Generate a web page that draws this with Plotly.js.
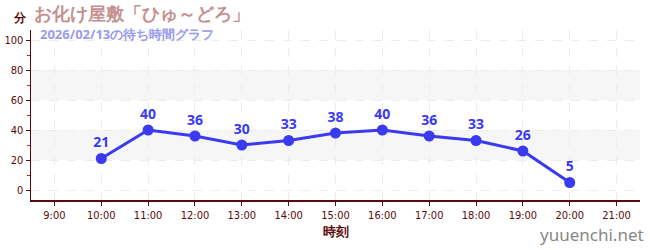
<!DOCTYPE html>
<html><head><meta charset="utf-8">
<script src="https://cdn.plot.ly/plotly-3.0.1.min.js"></script>
<style>body{margin:0;padding:0;background:#fff}#c{width:650px;height:250px}</style>
</head><body><div id="c"></div>
<script>
const hours = [10, 11, 12, 13, 14, 15, 16, 17, 18, 19, 20];
const waits = [21, 40, 36, 30, 33, 38, 40, 36, 33, 26, 5];
const tickHours = [9, 10, 11, 12, 13, 14, 15, 16, 17, 18, 19, 20, 21];
const tickLabels = tickHours.map(h => h + ':00');
const bandRanges = [[20, 40], [60, 80]];
const titleText = 'お化け屋敷「ひゅ～どろ」';
const subtitleText = '2026/02/13の待ち時間グラフ';

const axisColor = '#5a0a0a';
const trace = {
  x: hours, y: waits, mode: 'lines+markers+text', type: 'scatter',
  text: waits.map(String), textposition: 'top center',
  textfont: {color: '#3a3af0', size: 14, family: 'Noto Sans, sans-serif', weight: 'bold'},
  line: {color: '#3a3af0', width: 3},
  marker: {color: '#3a3af0', size: 11},
  cliponaxis: false, hoverinfo: 'skip'
};
const shapes = bandRanges.map(r => ({
  type: 'rect', xref: 'paper', yref: 'y', x0: 0, x1: 1, y0: r[0], y1: r[1],
  fillcolor: '#f6f6f6', line: {width: 0}, layer: 'below'
}));
const layout = {
  width: 650, height: 250,
  margin: {l: 31, r: 10, t: 30, b: 50},
  paper_bgcolor: '#fff', plot_bgcolor: '#fff',
  showlegend: false,
  font: {family: 'Noto Sans, sans-serif', color: axisColor},
  shapes: shapes,
  xaxis: {
    range: [8.5, 21.5], tickvals: tickHours, ticktext: tickLabels,
    showline: true, linecolor: axisColor, linewidth: 1.5,
    ticks: 'outside', ticklen: 4, tickcolor: axisColor,
    tickfont: {size: 11, color: axisColor, family: 'DejaVu Sans Condensed, Noto Sans, sans-serif'},
    showgrid: true, gridcolor: '#ececec', griddash: 'dash', gridwidth: 1,
    zeroline: false,
    title: {text: '時刻', font: {size: 13, color: axisColor, weight: 'bold'}, standoff: 5}
  },
  yaxis: {
    range: [-6.67, 106.67], tickvals: [0, 20, 40, 60, 80, 100],
    showline: true, linecolor: axisColor, linewidth: 1.5,
    ticks: 'outside', ticklen: 4, tickcolor: axisColor,
    tickfont: {size: 11, color: axisColor, family: 'DejaVu Sans Condensed, Noto Sans, sans-serif'},
    showgrid: true, gridcolor: '#ececec', griddash: 'dash', gridwidth: 1,
    zeroline: false,
    minor: {dtick: 10, tick0: 0, ticks: 'outside', ticklen: 3, tickcolor: '#cc2020', showgrid: false}
  },
  annotations: [
    {text: titleText, xref: 'paper', yref: 'paper', x: 0, xshift: 1, y: 1, yshift: 17, xanchor: 'left', yanchor: 'middle',
     showarrow: false, font: {size: 18, color: '#c49090', weight: 'bold'}},
    {text: subtitleText, xref: 'paper', yref: 'paper', x: 0, xshift: 7, y: 1, yshift: -4, xanchor: 'left', yanchor: 'middle',
     showarrow: false, font: {size: 13, color: '#9a9af0', weight: 'bold'}},
    {text: '分', xref: 'paper', yref: 'paper', x: 0, xshift: -11, y: 1, yshift: 13, xanchor: 'center', yanchor: 'middle',
     showarrow: false, font: {size: 12, color: axisColor, weight: 'bold'}},
    {text: 'yuuenchi.net', xref: 'paper', yref: 'paper', x: 1, xshift: 6, y: 0, yshift: -34, xanchor: 'right', yanchor: 'middle',
     showarrow: false, font: {size: 17, color: '#888888'}}
  ]
};
Plotly.newPlot('c', [trace], layout, {displayModeBar: false, staticPlot: true});
</script></body></html>
